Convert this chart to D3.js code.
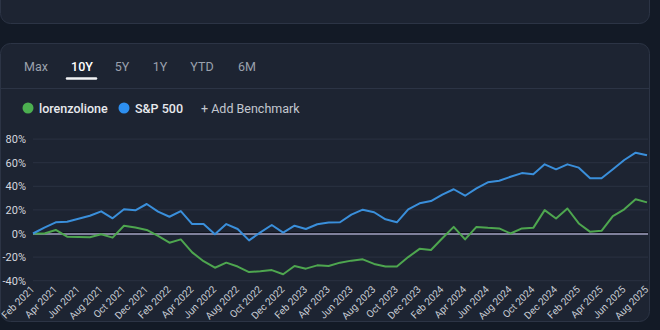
<!DOCTYPE html>
<html><head><meta charset="utf-8">
<script src="https://cdn.jsdelivr.net/npm/d3@7"></script>
<style>
html,body{margin:0;padding:0;background:#131a26;width:660px;height:330px;overflow:hidden;}
svg{display:block;font-family:Roboto,"Noto Sans",sans-serif;}
</style></head><body>
<svg id="c" width="660" height="330"></svg>
<script>
const months = ["Feb 2021","Mar 2021","Apr 2021","May 2021","Jun 2021","Jul 2021","Aug 2021","Sep 2021","Oct 2021","Nov 2021","Dec 2021","Jan 2022",
"Feb 2022","Mar 2022","Apr 2022","May 2022","Jun 2022","Jul 2022","Aug 2022","Sep 2022","Oct 2022","Nov 2022","Dec 2022","Jan 2023",
"Feb 2023","Mar 2023","Apr 2023","May 2023","Jun 2023","Jul 2023","Aug 2023","Sep 2023","Oct 2023","Nov 2023","Dec 2023","Jan 2024",
"Feb 2024","Mar 2024","Apr 2024","May 2024","Jun 2024","Jul 2024","Aug 2024","Sep 2024","Oct 2024","Nov 2024","Dec 2024","Jan 2025",
"Feb 2025","Mar 2025","Apr 2025","May 2025","Jun 2025","Jul 2025","Aug 2025"];
const sp500 = [0,5,9.5,10,12.5,15,18.8,12.9,20.5,19.7,25,18.5,14.2,19,8,8,-0.7,8,3.8,-5.8,1,7.2,0.7,6.6,3.8,7.8,9.3,9.5,16,20.2,18,12,9.5,20.5,25.6,27.5,33,37.5,32,38.3,43.4,44.7,48.1,51.2,50.2,58.6,54.4,58.6,55.8,46.8,46.8,54.4,62.3,68.5,66.3];
const lorenzolione = [0,0,3,-2.7,-3,-3.2,-0.7,-3.5,6.6,5,3,-2,-7.8,-5,-16,-23.5,-29,-24.7,-28,-32.7,-32,-31,-34.5,-27.5,-29.8,-27,-27.5,-24.7,-23,-21.9,-25.8,-28,-28,-20,-13,-14,-4,5.6,-5,5.6,4.8,4.3,0,4.3,4.8,19.8,12.7,21.2,8.5,1.4,2.3,14.8,20.5,29,26.4];
const yTicks = [-40,-20,0,20,40,60,80];
const tabs = ["Max","10Y","5Y","1Y","YTD","6M"];
const seriesNames = ["lorenzolione","S&P 500"];
const seriesColors = ["#4ea64f","#3a8fdb"];
const legendDots = ["#4caf50","#2d8ff0"];

const svg = d3.select("#c");
// cards
svg.append("rect").attr("x",0.5).attr("y",-20).attr("width",649).attr("height",43.5).attr("rx",10)
  .attr("fill","#1d2432").attr("stroke","#2c3445");
svg.append("rect").attr("x",0.5).attr("y",43.5).attr("width",649).attr("height",278).attr("rx",10)
  .attr("fill","#1d2432").attr("stroke","#2c3445");
svg.append("line").attr("x1",1).attr("x2",649).attr("y1",88.5).attr("y2",88.5).attr("stroke","#2c3445");

// tabs
const tabX = [36,82,122,160,202,247];
tabs.forEach((t,i)=>{
  svg.append("text").attr("x",tabX[i]).attr("y",71).attr("text-anchor","middle")
    .attr("font-size",12.5).attr("font-weight",i===1?500:400)
    .attr("fill",i===1?"#ffffff":"#9aa1ad").text(t);
});
svg.append("line").attr("x1",67).attr("x2",96).attr("y1",78.5).attr("y2",78.5)
  .attr("stroke","#f2f3f5").attr("stroke-width",2.5).attr("stroke-linecap","round");

// legend
svg.append("circle").attr("cx",28).attr("cy",108).attr("r",5.5).attr("fill",legendDots[0]);
svg.append("text").attr("x",39).attr("y",112.5).attr("font-size",12.5).attr("font-weight",500).attr("fill","#e8eaee").text(seriesNames[0]);
svg.append("circle").attr("cx",124).attr("cy",108).attr("r",5.5).attr("fill",legendDots[1]);
svg.append("text").attr("x",135).attr("y",112.5).attr("font-size",12.5).attr("font-weight",500).attr("fill","#e8eaee").text(seriesNames[1]);
svg.append("text").attr("x",201).attr("y",112.5).attr("font-size",12.5).attr("fill","#c3c7cf").text("+ Add Benchmark");

// scales
const x = d3.scalePoint().domain(months).range([33,647]);
const y = d3.scaleLinear().domain([-40,80]).range([280.7,139.1]);

// grid
svg.append("g").selectAll("line").data(yTicks.filter(d=>d!==0)).join("line")
  .attr("x1",33).attr("x2",648).attr("y1",d=>y(d)).attr("y2",d=>y(d))
  .attr("stroke","#2b3242").attr("stroke-width",1);
svg.append("g").selectAll("text").data(yTicks).join("text")
  .attr("x",26).attr("y",d=>y(d)+4).attr("text-anchor","end")
  .attr("font-size",11).attr("fill","#d4d7de").text(d=>d+"%");
// zero line
svg.append("line").attr("x1",33).attr("x2",648).attr("y1",y(0)-1).attr("y2",y(0)-1).attr("stroke","#0e121b").attr("stroke-width",1);
svg.append("line").attr("x1",33).attr("x2",648).attr("y1",y(0)+0.5).attr("y2",y(0)+0.5).attr("stroke","#a09fbf").attr("stroke-width",1.6);

// lines
const line = d3.line().x((d,i)=>x(months[i])).y(d=>y(d)).curve(d3.curveLinear);
svg.append("path").datum(lorenzolione).attr("d",line).attr("fill","none")
  .attr("stroke",seriesColors[0]).attr("stroke-width",2).attr("stroke-linejoin","round");
svg.append("path").datum(sp500).attr("d",line).attr("fill","none")
  .attr("stroke",seriesColors[1]).attr("stroke-width",2).attr("stroke-linejoin","round");

// x labels
const tickMonths = months.filter((m,i)=>i%2===0);
svg.append("g").selectAll("text").data(tickMonths).join("text")
  .attr("transform",d=>`translate(${x(d)+2},${290}) rotate(-45)`)
  .attr("text-anchor","end").attr("font-size",10).attr("fill","#c9cdd5").text(d=>d);
</script>
</body></html>
